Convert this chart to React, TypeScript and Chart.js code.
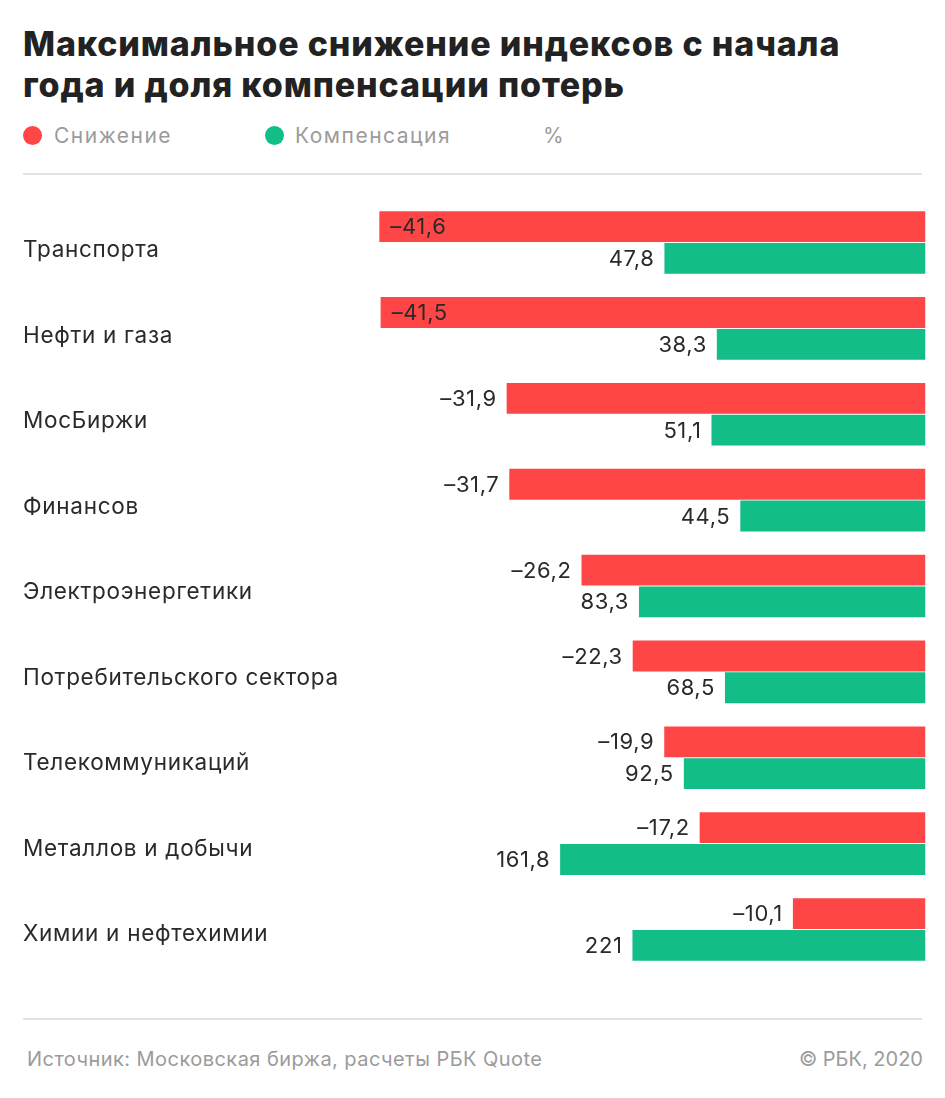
import React, { useEffect, useRef } from 'react';
import { Chart, registerables } from 'chart.js';

Chart.register(...registerables);

const categories = [
  'Транспорта',
  'Нефти и газа',
  'МосБиржи',
  'Финансов',
  'Электроэнергетики',
  'Потребительского сектора',
  'Телекоммуникаций',
  'Металлов и добычи',
  'Химии и нефтехимии',
];
const decline = [-41.6, -41.5, -31.9, -31.7, -26.2, -22.3, -19.9, -17.2, -10.1];
const compensation = [47.8, 38.3, 51.1, 44.5, 83.3, 68.5, 92.5, 161.8, 221];

const seriesNames = ['Снижение', 'Компенсация'];
const RED = '#ff4646';
const GREEN = '#12bd88';
const FONT = 'Inter, "Noto Sans", sans-serif';

const fmt = (v: number) => {
  const s = Math.abs(v).toString().replace('.', ',');
  return v < 0 ? '\u2013' + s : s;
};

// Red bar length = decline magnitude; green bar length = recovered part of that decline (in points)
const declineLen = decline.map((d) => -d);
const compensationLen = compensation.map((c, i) => (c * -decline[i]) / 100);

const CANVAS_TOP = 180;
const CANVAS_H = 810;

export default function App() {
  const ref = useRef<HTMLCanvasElement>(null);

  useEffect(() => {
    document.body.style.margin = '0';
    const canvas = ref.current;
    if (!canvas) return;

    const labelPlugin = {
      id: 'customLabels',
      afterDatasetsDraw(chart: any) {
        const ctx = chart.ctx;
        ctx.save();
        ctx.textBaseline = 'middle';
        // category labels
        ctx.font = `22.5px ${FONT}`;
        (ctx as any).letterSpacing = '0.7px';
        ctx.fillStyle = '#2a2a2a';
        ctx.textAlign = 'left';
        const yScale = chart.scales.y;
        categories.forEach((c, i) => {
          const y = yScale.getPixelForValue(i);
          ctx.fillText(c, 23, y + 8 - 0.4 * i);
        });
        // value labels
        ctx.font = `22px ${FONT}`;
        (ctx as any).letterSpacing = '0.6px';
        chart.data.datasets.forEach((ds: any, di: number) => {
          const meta = chart.getDatasetMeta(di);
          meta.data.forEach((bar: any, i: number) => {
            const raw = di === 0 ? decline[i] : compensation[i];
            const text = fmt(raw);
            const w = ctx.measureText(text).width;
            const left = Math.min(bar.x, bar.base);
            const y = bar.y + 1;
            if (left - 10 - w < 370) {
              ctx.textAlign = 'left';
              ctx.fillText(text, left + 11, y);
            } else {
              ctx.textAlign = 'right';
              ctx.fillText(text, left - 10, y);
            }
          });
        });
        ctx.restore();
      },
    };

    const chart = new Chart(canvas, {
      type: 'bar',
      data: {
        labels: categories,
        datasets: [
          {
            label: seriesNames[0],
            data: declineLen,
            backgroundColor: RED,
            barPercentage: 0.97,
            categoryPercentage: 0.74,
          },
          {
            label: seriesNames[1],
            data: compensationLen,
            backgroundColor: GREEN,
            barPercentage: 0.97,
            categoryPercentage: 0.74,
          },
        ],
      },
      options: {
        indexAxis: 'y',
        animation: false,
        responsive: false,
        maintainAspectRatio: false,
        layout: {
          padding: {
            left: 23,
            right: 19.5,
            top: 199.6 - CANVAS_TOP,
            bottom: CANVAS_H - (972.4 - CANVAS_TOP),
          },
        },
        scales: {
          x: { display: false, reverse: true, min: 0, max: 68.74 },
          y: { display: false },
        },
        plugins: {
          legend: { display: false },
          tooltip: { enabled: false },
        },
      },
      plugins: [labelPlugin],
    });
    return () => chart.destroy();
  }, []);

  const gray = '#9b9b9b';
  const legendText = {
    position: 'absolute' as const,
    top: 124.5,
    fontSize: 21,
    lineHeight: '21px',
    letterSpacing: '1.5px',
    color: gray,
    whiteSpace: 'nowrap' as const,
  };
  return (
    <div style={{ position: 'relative', width: 945, height: 1098, background: '#fff', fontFamily: FONT, overflow: 'hidden' }}>
      <div
        style={{
          position: 'absolute',
          left: 23,
          top: 23,
          fontSize: 34,
          fontWeight: 800,
          lineHeight: '41px',
          color: '#222',
          letterSpacing: '0.85px',
          whiteSpace: 'nowrap',
        }}
      >
        Максимальное снижение индексов с начала
        <br />
        года и доля компенсации потерь
      </div>
      {/* legend */}
      <div style={{ position: 'absolute', left: 22.5, top: 125.5, width: 19, height: 19, borderRadius: '50%', background: RED }} />
      <div style={{ ...legendText, left: 54 }}>{seriesNames[0]}</div>
      <div style={{ position: 'absolute', left: 264.5, top: 125.5, width: 19, height: 19, borderRadius: '50%', background: GREEN }} />
      <div style={{ ...legendText, left: 295 }}>{seriesNames[1]}</div>
      <div style={{ ...legendText, left: 543 }}>%</div>
      <div style={{ position: 'absolute', left: 23, top: 173, width: 899, height: 2, background: '#e2e2e2' }} />
      <canvas
        ref={ref}
        width={945}
        height={CANVAS_H}
        style={{ position: 'absolute', left: 0, top: CANVAS_TOP, width: 945, height: CANVAS_H }}
      />
      <div style={{ position: 'absolute', left: 23, top: 1018, width: 899, height: 2, background: '#e2e2e2' }} />
      <div style={{ position: 'absolute', left: 27, top: 1049, fontSize: 20, lineHeight: '20px', letterSpacing: '0.45px', color: gray, whiteSpace: 'nowrap' }}>
        Источник: Московская биржа, расчеты РБК Quote
      </div>
      <div style={{ position: 'absolute', right: 22, top: 1049, fontSize: 20, lineHeight: '20px', color: gray, whiteSpace: 'nowrap' }}>
        © РБК, 2020
      </div>
    </div>
  );
}
